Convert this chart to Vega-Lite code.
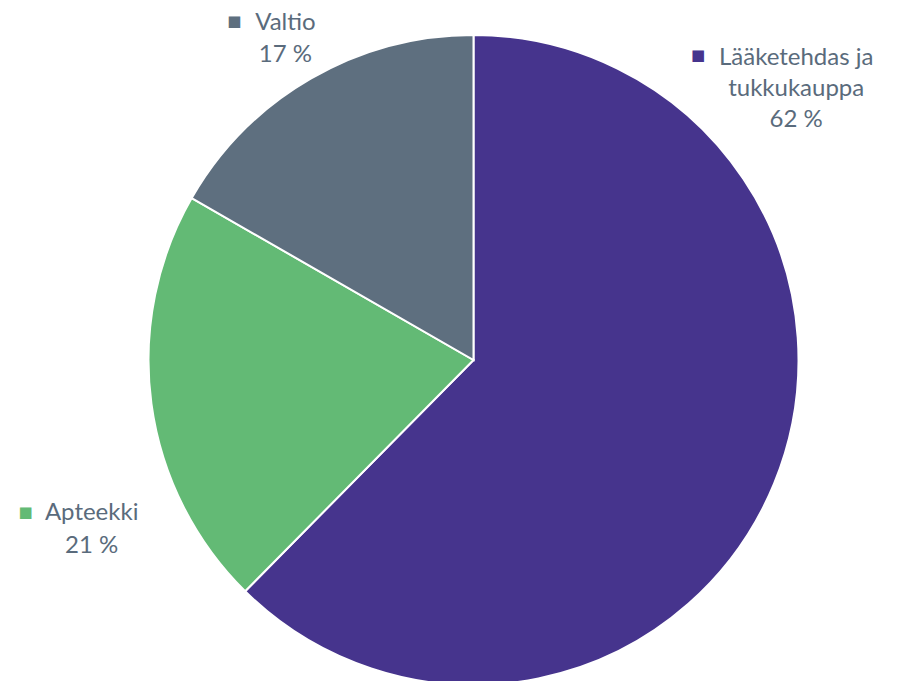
{
  "$schema": "https://vega.github.io/schema/vega-lite/v6.json",
  "width": 899,
  "height": 681,
  "autosize": {"type": "fit", "contains": "padding"},
  "padding": {"left": 42, "top": 30, "right": 0, "bottom": 0},
  "background": "white",
  "config": {"view": {"stroke": null}},
  "data": {
    "values": [
      {"nimi": "Lääketehdas ja tukkukauppa", "otsikko": "Lääketehdas ja\ntukkukauppa", "osuus": 62.4},
      {"nimi": "Apteekki", "otsikko": "Apteekki", "osuus": 20.9},
      {"nimi": "Valtio", "otsikko": "Valtio", "osuus": 16.7}
    ]
  },
  "transform": [
    {"calculate": "datum.otsikko + '\\n' + format(datum.osuus, '.0f') + ' %'", "as": "teksti"}
  ],
  "layer": [
    {
      "mark": {"type": "arc", "outerRadius": 325, "stroke": "white", "strokeWidth": 2},
      "encoding": {
        "theta": {"field": "osuus", "type": "quantitative", "stack": true},
        "order": {"field": "osuus", "sort": "descending"},
        "color": {
          "field": "nimi",
          "type": "nominal",
          "scale": {
            "domain": ["Lääketehdas ja tukkukauppa", "Apteekki", "Valtio"],
            "range": ["#46348D", "#63BA75", "#5E6F7F"]
          },
          "legend": null
        }
      }
    },
    {
      "transform": [{"filter": "datum.nimi === 'Valtio'"}],
      "mark": {"type": "text", "theta": -0.5178, "radius": 380, "align": "center", "baseline": "alphabetic", "lineBreak": "\n", "lineHeight": 32, "font": "Lato", "fontSize": 24, "color": "#5A6B7C"},
      "encoding": {"text": {"field": "teksti", "type": "nominal"}}
    },
    {
      "transform": [{"filter": "datum.nimi === 'Valtio'"}],
      "mark": {"type": "text", "theta": -0.5178, "radius": 380, "dx": -51, "dy": -9, "align": "center", "baseline": "middle", "font": "DejaVu Sans", "fontSize": 15, "text": "■"},
      "encoding": {
        "color": {"field": "nimi", "type": "nominal", "scale": {"domain": ["Lääketehdas ja tukkukauppa", "Apteekki", "Valtio"], "range": ["#46348D", "#63BA75", "#5E6F7F"]}, "legend": null}
      }
    },
    {
      "transform": [{"filter": "datum.nimi === 'Lääketehdas ja tukkukauppa'"}],
      "mark": {"type": "text", "theta": 0.8308, "radius": 437, "align": "center", "baseline": "alphabetic", "lineBreak": "\n", "lineHeight": 31, "font": "Lato", "fontSize": 24, "color": "#5A6B7C"},
      "encoding": {"text": {"field": "teksti", "type": "nominal"}}
    },
    {
      "transform": [{"filter": "datum.nimi === 'Lääketehdas ja tukkukauppa'"}],
      "mark": {"type": "text", "theta": 0.8308, "radius": 437, "dx": -98, "dy": -10, "align": "center", "baseline": "middle", "font": "DejaVu Sans", "fontSize": 15, "text": "■"},
      "encoding": {
        "color": {"field": "nimi", "type": "nominal", "scale": {"domain": ["Lääketehdas ja tukkukauppa", "Apteekki", "Valtio"], "range": ["#46348D", "#63BA75", "#5E6F7F"]}, "legend": null}
      }
    },
    {
      "transform": [{"filter": "datum.nimi === 'Apteekki'"}],
      "mark": {"type": "text", "theta": -1.9676, "radius": 414, "align": "center", "baseline": "alphabetic", "lineBreak": "\n", "lineHeight": 33, "font": "Lato", "fontSize": 24, "color": "#5A6B7C"},
      "encoding": {"text": {"field": "teksti", "type": "nominal"}}
    },
    {
      "transform": [{"filter": "datum.nimi === 'Apteekki'"}],
      "mark": {"type": "text", "theta": -1.9676, "radius": 414, "dx": -66, "dy": -8, "align": "center", "baseline": "middle", "font": "DejaVu Sans", "fontSize": 15, "text": "■"},
      "encoding": {
        "color": {"field": "nimi", "type": "nominal", "scale": {"domain": ["Lääketehdas ja tukkukauppa", "Apteekki", "Valtio"], "range": ["#46348D", "#63BA75", "#5E6F7F"]}, "legend": null}
      }
    }
  ]
}
